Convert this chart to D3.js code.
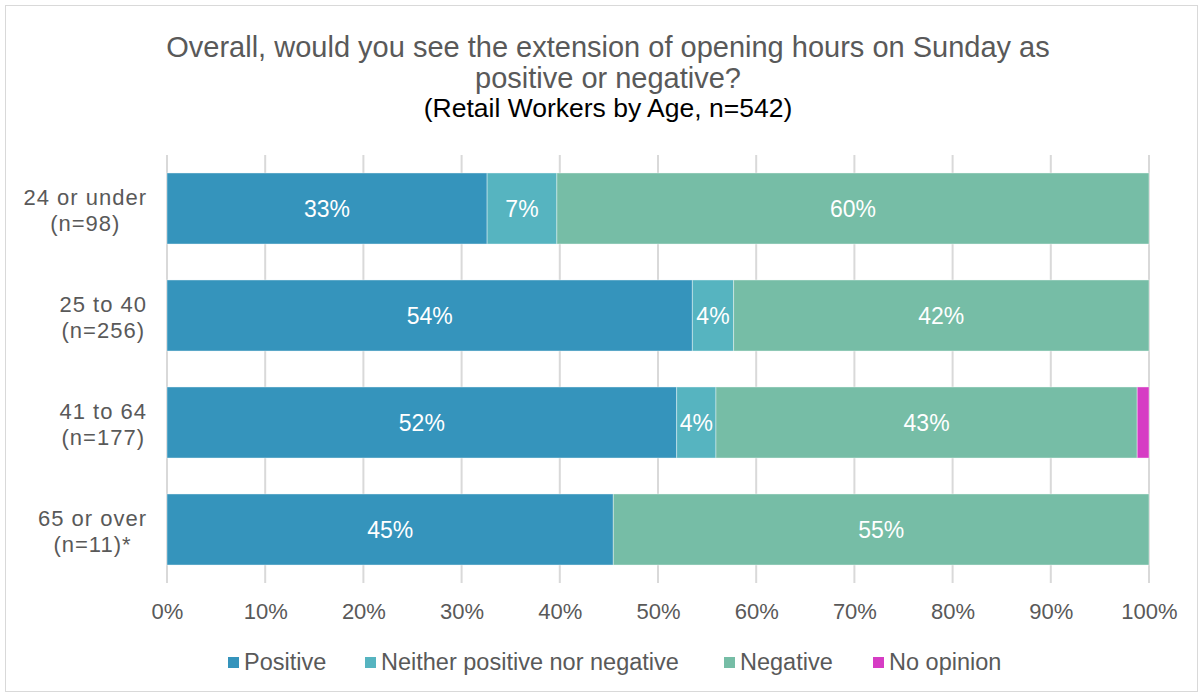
<!DOCTYPE html>
<html>
<head>
<meta charset="utf-8">
<script src="https://cdn.jsdelivr.net/npm/d3@7"></script>
<style>
  body { margin: 0; background: #fff; }
  text { font-family: "Liberation Sans", Arial, sans-serif; }
</style>
</head>
<body>
<div id="chart"></div>
<script>
// data
const categories = ["24 or under", "25 to 40", "41 to 64", "65 or over"];
const sampleLabels = ["(n=98)", "(n=256)", "(n=177)", "(n=11)*"];
const seriesNames = ["Positive", "Neither positive nor negative", "Negative", "No opinion"];
const positive = [32.6, 53.5, 51.9, 45.45];
const neither = [7.1, 4.2, 4.0, 0];
const negative = [60.3, 42.3, 42.9, 54.55];
const noOpinion = [0, 0, 1.2, 0];
const tickValues = [0, 10, 20, 30, 40, 50, 60, 70, 80, 90, 100];
const colors = ["#3594BC", "#56B4C0", "#76BDA6", "#D63CC4"];

const width = 1203, height = 697;
const margin = { left: 167, right: 54, top: 155, bottom: 114 };

const svg = d3.select("#chart").append("svg")
  .attr("width", width)
  .attr("height", height);

svg.append("rect")
  .attr("x", 5.5).attr("y", 5.5)
  .attr("width", width - 11).attr("height", height - 11)
  .attr("fill", "#fff")
  .attr("stroke", "#D9D9D9");

// title
const title = svg.append("g").attr("text-anchor", "middle");
title.append("text").attr("x", 608).attr("y", 57)
  .attr("font-size", 29).attr("fill", "#595959")
  .text("Overall, would you see the extension of opening hours on Sunday as");
title.append("text").attr("x", 608).attr("y", 88)
  .attr("font-size", 29).attr("fill", "#595959")
  .text("positive or negative?");
title.append("text").attr("x", 608).attr("y", 117)
  .attr("font-size", 26.5).attr("fill", "#000")
  .text("(Retail Workers by Age, n=542)");

const x = d3.scaleLinear().domain([0, 100])
  .range([margin.left, width - margin.right]);
const y = d3.scaleBand().domain(categories)
  .range([margin.top, height - margin.bottom])
  .paddingInner(0.336).paddingOuter(0.168);

// gridlines
svg.append("g").selectAll("line")
  .data(tickValues)
  .join("line")
  .attr("x1", d => x(d)).attr("x2", d => x(d))
  .attr("y1", margin.top).attr("y2", height - margin.bottom)
  .attr("stroke", "#D9D9D9").attr("stroke-width", 2);

// tick labels
const xAxis = svg.append("g")
  .attr("transform", `translate(0,${height - margin.bottom})`)
  .call(d3.axisBottom(x).tickValues(tickValues).tickFormat(d => d + "%").tickSize(0).tickPadding(20));
xAxis.select(".domain").remove();
xAxis.selectAll("text").attr("font-size", 22).attr("fill", "#595959")
  .attr("font-family", "'Liberation Sans', Arial, sans-serif");

// stacked data
const rows = categories.map((c, i) => ({
  cat: c,
  "Positive": positive[i],
  "Neither positive nor negative": neither[i],
  "Negative": negative[i],
  "No opinion": noOpinion[i]
}));
const stack = d3.stack().keys(seriesNames)(rows);

const groups = svg.append("g").selectAll("g")
  .data(stack)
  .join("g")
  .attr("fill", (d, i) => colors[i]);

groups.selectAll("rect")
  .data(d => d.filter(s => s[1] - s[0] > 0))
  .join("rect")
  .attr("x", d => x(d[0]))
  .attr("width", d => x(d[1]) - x(d[0]))
  .attr("y", d => y(d.data.cat))
  .attr("height", y.bandwidth())
  .attr("stroke", "#fff").attr("stroke-opacity", 0.4).attr("stroke-width", 1);

// value labels
groups.selectAll("text")
  .data(d => d.filter(s => s[1] - s[0] >= 2))
  .join("text")
  .attr("x", d => (x(d[0]) + x(d[1])) / 2)
  .attr("y", d => y(d.data.cat) + y.bandwidth() / 2 + 8)
  .attr("text-anchor", "middle")
  .attr("font-size", 23)
  .attr("fill", "#fff")
  .text(d => Math.round(d[1] - d[0]) + "%");

// category labels: two centred lines, block right-aligned
const labelRight = 147;
const catLabels = svg.append("g").selectAll("g")
  .data(categories)
  .join("g");
catLabels.each(function (d, i) {
  const g = d3.select(this);
  const cy = y(d) + y.bandwidth() / 2;
  const t1 = g.append("text").attr("font-size", 22).attr("fill", "#595959")
    .attr("letter-spacing", 1).attr("text-anchor", "middle")
    .attr("y", cy - 4).text(d);
  const t2 = g.append("text").attr("font-size", 22).attr("fill", "#595959")
    .attr("letter-spacing", 1).attr("text-anchor", "middle")
    .attr("y", cy + 22).text(sampleLabels[i]);
  const w = Math.max(t1.node().getComputedTextLength(), t2.node().getComputedTextLength());
  const cx = labelRight - w / 2;
  t1.attr("x", cx);
  t2.attr("x", cx);
});

// legend
const legendX = [228, 365, 724, 873];
const legend = svg.append("g").selectAll("g")
  .data(seriesNames)
  .join("g")
  .attr("transform", (d, i) => `translate(${legendX[i]},657)`);
legend.append("rect")
  .attr("x", 0).attr("y", 0).attr("width", 11).attr("height", 11)
  .attr("fill", (d, i) => colors[i]);
legend.append("text")
  .attr("x", 16).attr("y", 13)
  .attr("font-size", 23.5).attr("fill", "#595959")
  .text(d => d);
</script>
</body>
</html>
